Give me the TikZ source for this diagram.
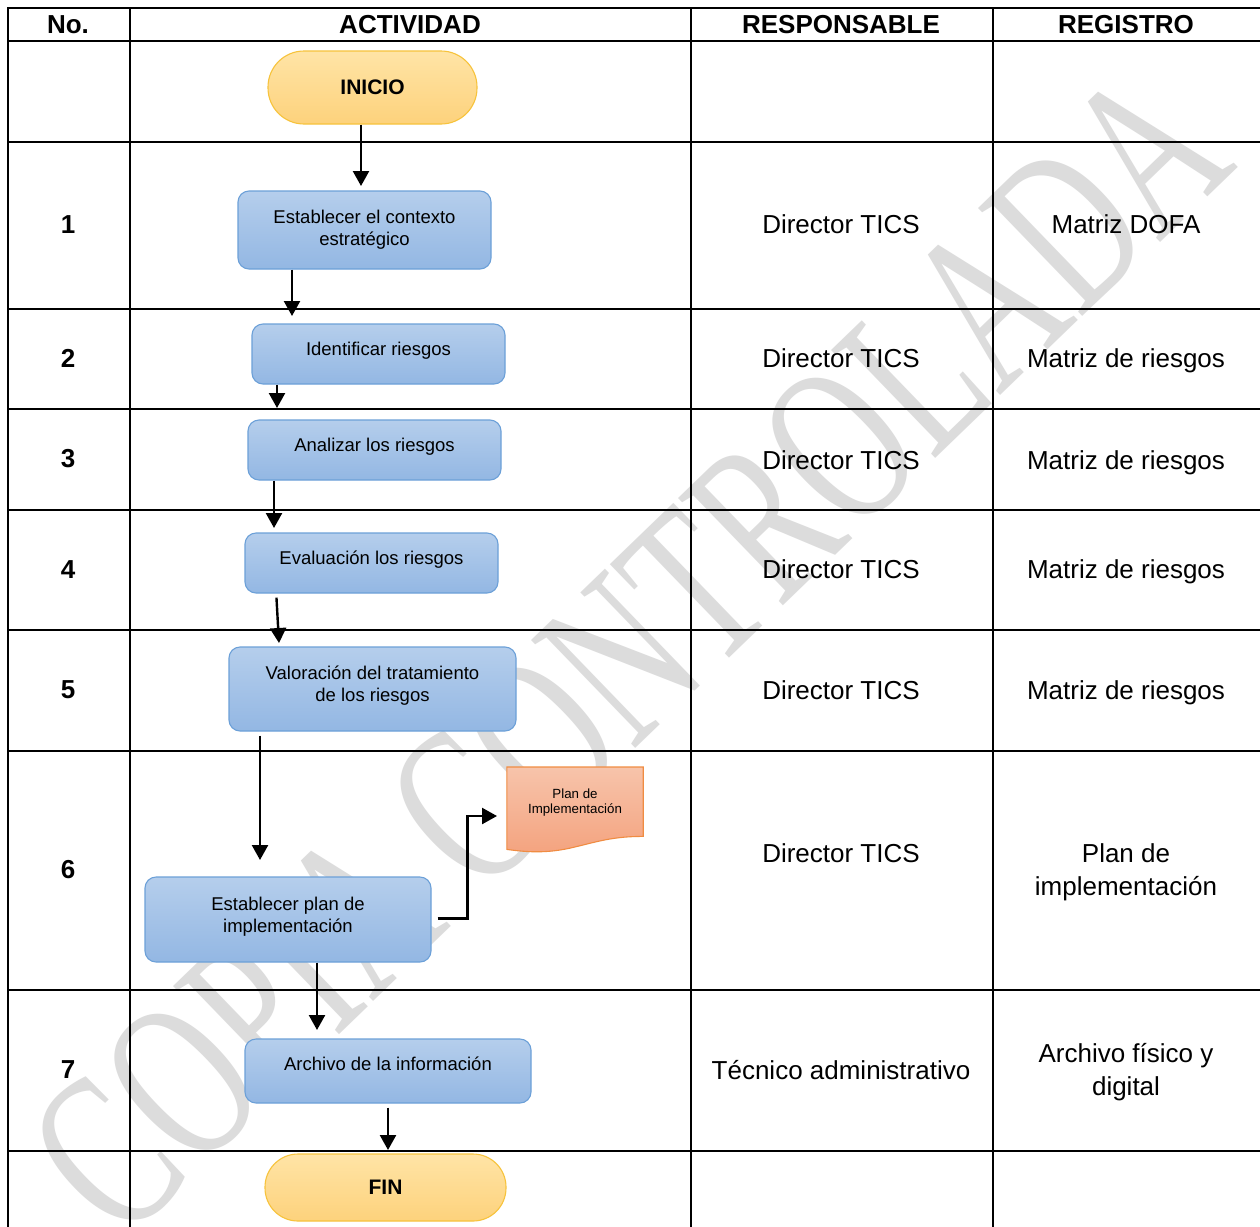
\documentclass[tikz,border=0pt]{standalone}
\usepackage{fontspec}
\setmainfont{Liberation Sans}
\newfontfamily\wmfont{Liberation Serif}
\usetikzlibrary{arrows.meta,calc}
\definecolor{boxtop}{RGB}{181,206,236}
\definecolor{boxbot}{RGB}{147,183,227}
\definecolor{boxline}{RGB}{108,160,216}
\definecolor{termtop}{RGB}{255,228,166}
\definecolor{termbot}{RGB}{253,210,124}
\definecolor{termline}{RGB}{247,195,60}
\definecolor{doctop}{RGB}{247,196,171}
\definecolor{docbot}{RGB}{244,163,127}
\definecolor{docline}{RGB}{240,140,66}
\definecolor{wmgray}{RGB}{220,220,220}
\begin{document}
\begin{tikzpicture}[x=1pt,y=-1pt,
  grid/.style={line width=2.4pt,black,line cap=rect},
  hdr/.style={font=\fontsize{26}{30}\selectfont\bfseries, inner sep=0pt, text height=18.6pt, text depth=0pt},
  cell/.style={font=\fontsize{26}{30}\selectfont, inner sep=0pt, text height=18.6pt, text depth=0pt},
  cell2/.style={font=\fontsize{26}{33}\selectfont, inner sep=0pt, align=center},
  stepbox/.style={draw=boxline, line width=1.1pt, rounded corners=11pt, top color=boxtop, bottom color=boxbot, inner sep=0pt},
  term/.style={draw=termline, line width=1.1pt, top color=termtop, bottom color=termbot, inner sep=0pt, font=\fontsize{21}{21}\selectfont\bfseries},
  btxt/.style={font=\fontsize{18.5}{22}\selectfont, inner sep=0pt, text height=13.2pt, text depth=0pt},
  btxt2/.style={font=\fontsize{18.5}{22}\selectfont, inner sep=0pt, align=center},
  arr/.style={line width=2.4pt, -{Triangle[length=15pt,width=16pt]}},
  wm/.style={font=\fontsize{158}{158}\wmfont, text=wmgray, inner sep=0pt}
]
\useasboundingbox (0,0) rectangle (1260,1226);
\clip (0,0) rectangle (1260,1226);
\fill[white] (0,0) rectangle (1260,1226);

% watermark
\node[wm, rotate=44, xscale=0.97, yscale=1.45] (wmark) at (628,652) {COPIA CONTROLADA};

% table grid
\foreach \xx in {8,130,691,993} \draw[grid] (\xx,8) -- (\xx,1232);
\foreach \yy in {8,41,142,309,409,510,630,751,990,1151} \draw[grid] (8,\yy) -- (1264,\yy);

% headers
\node[hdr] (hno) at (68,24) {No.};
\node[hdr] (hact) at (410,24) {ACTIVIDAD};
\node[hdr] (hres) at (841,24) {RESPONSABLE};
\node[hdr] (hreg) at (1126,24) {REGISTRO};

% row numbers
\node[hdr] (n1) at (68,224) {1};
\node[hdr] (n2) at (68,358) {2};
\node[hdr] (n3) at (68,458) {3};
\node[hdr] (n4) at (68,569) {4};
\node[hdr] (n5) at (68,689) {5};
\node[hdr] (n6) at (68,869) {6};
\node[hdr] (n7) at (68,1069) {7};

% responsables
\node[cell] (r1) at (841,224) {Director TICS};
\node[cell] (r2) at (841,358) {Director TICS};
\node[cell] (r3) at (841,460) {Director TICS};
\node[cell] (r4) at (841,569) {Director TICS};
\node[cell] (r5) at (841,690) {Director TICS};
\node[cell] (r6) at (841,853) {Director TICS};
\node[cell] (r7) at (841,1070) {Técnico administrativo};

% registros
\node[cell] (g1) at (1126,224) {Matriz DOFA};
\node[cell] (g2) at (1126,358) {Matriz de riesgos};
\node[cell] (g3) at (1126,460) {Matriz de riesgos};
\node[cell] (g4) at (1126,569) {Matriz de riesgos};
\node[cell] (g5) at (1126,690) {Matriz de riesgos};
\node[cell2] (g6) at (1126,872) {Plan de\\implementación};
\node[cell2] (g7) at (1126,1072) {Archivo físico y\\digital};

% flowchart
\node[term, rounded corners=36pt, minimum width=209pt, minimum height=73pt] (inicio) at (372.5,87.5) {INICIO};
\node[stepbox, minimum width=253pt, minimum height=78pt] (b1) at (364.5,230) {};
\node[btxt2] (b1t) at (364.5,229.5) {Establecer el contexto\\estratégico};
\node[stepbox, minimum width=253pt, minimum height=60pt] (b2) at (378.5,354) {};
\node[btxt] (b2t) at (378.5,348.5) {Identificar riesgos};
\node[stepbox, minimum width=253pt, minimum height=60pt] (b3) at (374.5,450) {};
\node[btxt] (b3t) at (374.5,444.5) {Analizar los riesgos};
\node[stepbox, minimum width=253pt, minimum height=60pt] (b4) at (371.5,563) {};
\node[btxt] (b4t) at (371.5,557.5) {Evaluación los riesgos};
\node[stepbox, minimum width=287pt, minimum height=84pt] (b5) at (372.5,689) {};
\node[btxt2] (b5t) at (372.5,685.5) {Valoración del tratamiento\\de los riesgos};
\node[stepbox, minimum width=286pt, minimum height=85pt] (b6) at (288,919.5) {};
\node[btxt2] (b6t) at (288,916.5) {Establecer plan de\\implementación};
\node[stepbox, minimum width=286pt, minimum height=64pt] (b7) at (388,1071) {};
\node[btxt] (b7t) at (388,1063.5) {Archivo de la información};
\node[term, rounded corners=33pt, minimum width=241pt, minimum height=67pt] (fin) at (385.5,1187.5) {FIN};

% document shape
\node[inner sep=0pt, minimum width=136pt, minimum height=69pt, anchor=north] (doc) at (575,767) {};
\path[draw=docline, line width=1.1pt, top color=doctop, bottom color=docbot]
  (doc.north west) -- (doc.north east) -- (doc.south east)
  .. controls ($(doc.south east)+(-30,0)$) and ($(doc.south east)+(-45,5)$) .. ($(doc.south east)+(-70,11)$)
  .. controls ($(doc.south east)+(-95,17)$) and ($(doc.south east)+(-115,16)$) .. ($(doc.south west)+(0,13)$)
  -- cycle;
\node[font=\fontsize{13.3}{15}\selectfont, align=center, inner sep=0pt] (doct) at (575,803) {Plan de\\Implementación};

% connectors
\coordinate (t1) at (361,186);
\coordinate (t2) at (292,316);
\coordinate (t3) at (277,408);
\coordinate (t4) at (274,528);
\coordinate (t5) at (279,643);
\coordinate (t6) at (260,860);
\coordinate (t7) at (317,1030);
\coordinate (t8) at (388,1150);
\coordinate (t9) at (497,816);
\draw[arr] (inicio.south -| t1) -- (t1);
\draw[arr] (b1.south -| t2) -- (t2);
\draw[arr] (b2.south -| t3) -- (t3);
\draw[arr] (b3.south -| t4) -- (t4);
\draw[arr] ($(b4.south west)+(32,4)$) -- (t5);
\draw[arr] ($(b5.south -| t6)+(0,4)$) -- (t6);
\draw[arr] (b6.south -| t7) -- (t7);
\draw[arr] ($(b7.south -| t8)+(0,4)$) -- (t8);
\draw[arr] ($(b6.east)+(6,-1)$) -- ++(30,0) |- (t9);
\end{tikzpicture}
\end{document}
